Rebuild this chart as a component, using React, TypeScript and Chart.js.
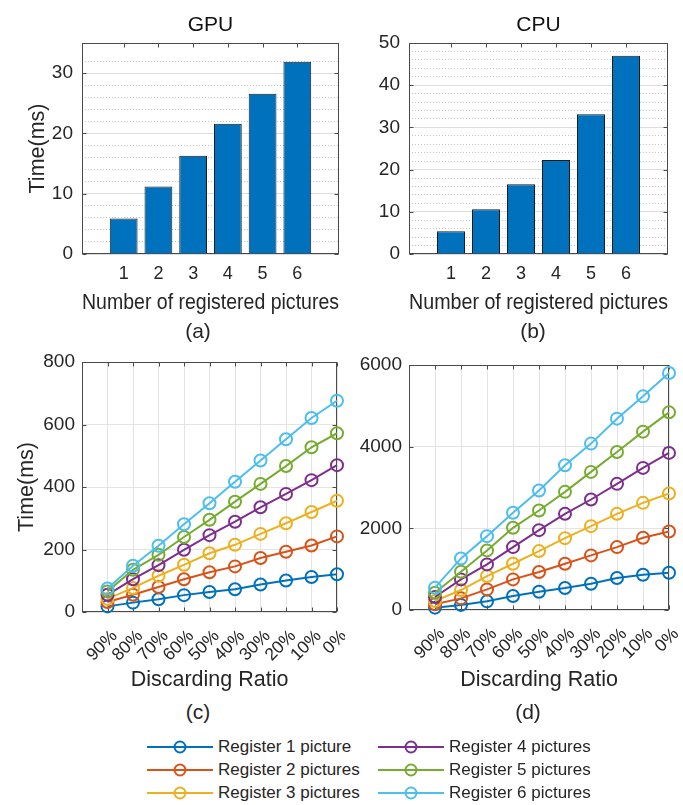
import React, { useEffect, useRef } from 'react';
import { Chart, registerables } from 'chart.js';

Chart.register(...registerables);

const FONT = '"Liberation Sans", Arial, Helvetica, sans-serif';
const TEXT = '#262626';

// ---------- data ----------
const barCategories = [1, 2, 3, 4, 5, 6];
const gpuTimes = [5.9, 11.2, 16.3, 21.6, 26.6, 31.9];
const cpuTimes = [5.4, 10.6, 16.5, 22.3, 33.1, 47.0];

const ratioLabels = ['90%', '80%', '70%', '60%', '50%', '40%', '30%', '20%', '10%', '0%'];
const seriesNames = [
  'Register 1 picture',
  'Register 2 pictures',
  'Register 3 pictures',
  'Register 4 pictures',
  'Register 5 pictures',
  'Register 6 pictures',
];
const seriesColors = ['#0072BD', '#D95319', '#EDB120', '#7E2F8E', '#77AC30', '#4DBEEE'];

const gpuReg1 = [18, 30, 41, 54, 64, 73, 88, 101, 112, 121];
const gpuReg2 = [32, 55, 80, 105, 127, 146, 173, 193, 213, 242];
const gpuReg3 = [42, 77, 116, 151, 188, 215, 250, 284, 320, 356];
const gpuReg4 = [55, 105, 150, 199, 246, 289, 335, 378, 422, 470];
const gpuReg5 = [66, 135, 183, 240, 295, 353, 410, 467, 527, 572];
const gpuReg6 = [75, 148, 212, 281, 348, 417, 485, 553, 621, 676];

const cpuReg1 = [57, 125, 212, 342, 448, 538, 644, 782, 864, 913];
const cpuReg2 = [140, 285, 505, 750, 929, 1133, 1337, 1540, 1768, 1923];
const cpuReg3 = [220, 489, 831, 1133, 1443, 1760, 2054, 2355, 2624, 2852];
const cpuReg4 = [318, 750, 1117, 1540, 1956, 2355, 2706, 3089, 3480, 3847];
const cpuReg5 = [424, 937, 1459, 2013, 2437, 2893, 3382, 3871, 4368, 4841];
const cpuReg6 = [546, 1263, 1809, 2380, 2926, 3545, 4075, 4686, 5232, 5803];

// ---------- plugin: MATLAB-like box with inward ticks ----------
const boxPlugin = {
  id: 'matlabBox',
  beforeDatasetsDraw(chart: any) {
    const { ctx, chartArea: a } = chart;
    const xs = chart.scales.x;
    const ys = chart.scales.y;
    const L = Math.round(a.left) + 0.5;
    const R = Math.round(a.right) - 0.5;
    const T = Math.round(a.top) + 0.5;
    const B = Math.round(a.bottom) - 0.5;
    const len = 4;
    ctx.save();
    ctx.strokeStyle = '#4a4a4a';
    ctx.lineWidth = 1;
    ctx.beginPath();
    xs.ticks.forEach((t: any) => {
      if (!t.label) return;
      const px = Math.round(xs.getPixelForValue(t.value)) + 0.5;
      ctx.moveTo(px, B);
      ctx.lineTo(px, B - len);
      ctx.moveTo(px, T);
      ctx.lineTo(px, T + len);
    });
    ys.ticks.forEach((t: any) => {
      if (!t.label) return;
      const py = Math.round(ys.getPixelForValue(t.value)) + 0.5;
      ctx.moveTo(L, py);
      ctx.lineTo(L + len, py);
      ctx.moveTo(R, py);
      ctx.lineTo(R - len, py);
    });
    ctx.stroke();
    ctx.strokeRect(L, T, R - L, B - T);
    ctx.restore();
  },
};

const font = (size: number) => ({ family: FONT, size, weight: 'normal' as const });

function fixX(height: number) {
  return (s: any) => {
    s.height = height;
    s.paddingLeft = 0;
    s.paddingRight = 0;
  };
}
function fixY(width: number) {
  return (s: any) => {
    s.width = width;
    s.paddingTop = 0;
    s.paddingBottom = 0;
  };
}

function barConfig(title: string, values: number[], yMax: number, yWidth: number, padRight: number, yTitle: boolean): any {
  return {
    type: 'bar',
    data: {
      datasets: [
        {
          data: barCategories.map((c, i) => ({ x: c, y: values[i] })),
          backgroundColor: '#0072BD',
          borderColor: '#1c1c1c',
          borderWidth: 1,
          categoryPercentage: 1,
          barPercentage: 0.8,
        },
      ],
    },
    options: {
      animation: false,
      responsive: false,
      layout: { padding: { left: 0, right: padRight, top: 0, bottom: 0 } },
      plugins: {
        legend: { display: false },
        tooltip: { enabled: false },
        title: {
          display: true,
          text: title,
          fullSize: false,
          color: '#111',
          font: font(21),
          padding: { top: 12.5, bottom: 5.3 },
        },
      },
      scales: {
        x: {
          type: 'linear',
          min: -0.2,
          max: 7.2,
          offset: false,
          grid: { display: false, drawTicks: false },
          border: { display: false },
          ticks: {
            stepSize: 1,
            autoSkip: false,
            maxRotation: 0,
            padding: 9,
            color: TEXT,
            font: font(18),
            callback: (v: number) => (barCategories.includes(v) ? String(v) : ''),
          },
          title: {
            display: true,
            text: 'Number of registered pictures',
            color: TEXT,
            font: font(21.5),
            padding: { top: 0, bottom: 2 },
          },
          afterFit: fixX(64),
        },
        y: {
          min: 0,
          max: yMax,
          grid: {
            drawTicks: false,
            lineWidth: 1,
            color: (c: any) => (c.tick && c.tick.value % 10 === 0 ? '#dddddd' : '#c4c4c4'),
          },
          border: {
            display: false,
            dash: (c: any) => (c.tick && c.tick.value % 10 !== 0 ? [1, 2] : []),
          },
          ticks: {
            stepSize: 2,
            autoSkip: false,
            padding: 9,
            color: TEXT,
            font: font(19),
            callback: (v: number) => (v % 10 === 0 ? String(v) : ''),
          },
          title: {
            display: yTitle,
            text: 'Time(ms)',
            color: TEXT,
            font: font(21.5),
            padding: { top: 25, bottom: 0 },
          },
          afterFit: fixY(yWidth),
        },
      },
    },
    plugins: [boxPlugin],
  };
}

function lineConfig(series: number[][], yMax: number, yStep: number, yWidth: number, padTop: number, padRight: number, xHeight: number, yTitle: boolean): any {
  return {
    type: 'line',
    data: {
      datasets: series.map((vals, i) => ({
        label: seriesNames[i],
        data: vals.map((v, j) => ({ x: j + 1, y: v })),
        borderColor: seriesColors[i],
        backgroundColor: 'transparent',
        borderWidth: 2,
        pointRadius: 6,
        pointBorderWidth: 2,
        pointBackgroundColor: 'transparent',
        pointBorderColor: seriesColors[i],
        tension: 0,
        clip: false,
        order: series.length - i,
      })),
    },
    options: {
      animation: false,
      responsive: false,
      layout: { padding: { left: 0, right: padRight, top: padTop, bottom: 0 } },
      plugins: { legend: { display: false }, tooltip: { enabled: false } },
      scales: {
        x: {
          type: 'linear',
          min: 0,
          max: 10,
          grid: { color: '#e4e4e4', drawTicks: false },
          border: { display: false },
          ticks: {
            stepSize: 1,
            autoSkip: false,
            minRotation: 45,
            maxRotation: 45,
            padding: 14,
            labelOffset: 7,
            color: TEXT,
            font: font(17.5),
            callback: (v: number) => (v >= 1 && v <= 10 ? ratioLabels[v - 1] : ''),
          },
          title: {
            display: true,
            text: 'Discarding Ratio',
            color: TEXT,
            font: font(21.5),
            padding: { top: 0, bottom: 7 },
          },
          afterFit: fixX(xHeight),
        },
        y: {
          min: 0,
          max: yMax,
          grid: { color: '#e4e4e4', drawTicks: false },
          border: { display: false },
          ticks: {
            stepSize: yStep,
            autoSkip: false,
            padding: 7,
            color: TEXT,
            font: font(19),
            callback: (v: number) => String(v),
          },
          title: {
            display: yTitle,
            text: 'Time(ms)',
            color: TEXT,
            font: font(21.5),
            padding: { top: 14, bottom: 0 },
          },
          afterFit: fixY(yWidth),
        },
      },
    },
    plugins: [boxPlugin],
  };
}

function ChartBox(props: { make: () => any; left: number; top: number; width: number; height: number }) {
  const ref = useRef<HTMLCanvasElement>(null);
  useEffect(() => {
    const chart = new Chart(ref.current as HTMLCanvasElement, props.make());
    return () => chart.destroy();
  }, []);
  return (
    <canvas
      ref={ref}
      width={props.width}
      height={props.height}
      style={{ position: 'absolute', left: props.left, top: props.top, width: props.width, height: props.height }}
    />
  );
}

function Caption(props: { text: string; cx: number; cy: number }) {
  return (
    <div
      style={{
        position: 'absolute',
        left: props.cx - 40,
        top: props.cy - 12,
        width: 80,
        height: 24,
        lineHeight: '24px',
        textAlign: 'center',
        fontSize: 21,
        color: TEXT,
      }}
    >
      {props.text}
    </div>
  );
}

export default function App() {
  const gpuSeries = [gpuReg1, gpuReg2, gpuReg3, gpuReg4, gpuReg5, gpuReg6];
  const cpuSeries = [cpuReg1, cpuReg2, cpuReg3, cpuReg4, cpuReg5, cpuReg6];
  return (
    <div
      style={{
        position: 'absolute',
        left: 0,
        top: 0,
        width: 683,
        height: 805,
        background: '#fff',
        fontFamily: FONT,
        overflow: 'hidden',
      }}
    >
      <ChartBox make={() => barConfig('GPU', gpuTimes, 35, 82, 6, true)} left={0} top={0} width={345} height={318} />
      <ChartBox make={() => barConfig('CPU', cpuTimes, 50, 69, 15, false)} left={340} top={0} width={343} height={318} />
      <ChartBox make={() => lineConfig(gpuSeries, 800, 200, 82, 22, 6, 88, true)} left={0} top={340} width={345} height={360} />
      <ChartBox make={() => lineConfig(cpuSeries, 6000, 2000, 69, 25, 14, 90, false)} left={340} top={340} width={343} height={360} />

      <Caption text="(a)" cx={198} cy={331} />
      <Caption text="(b)" cx={533} cy={331} />
      <Caption text="(c)" cx={198} cy={712} />
      <Caption text="(d)" cx={528} cy={712} />

      {seriesNames.map((name, i) => {
        const col = i < 3 ? 0 : 1;
        const row = i % 3;
        const left = col === 0 ? 147 : 378;
        const cy = 747 + row * 23;
        return (
          <div key={name} style={{ position: 'absolute', left, top: cy - 11, height: 22, width: 240 }}>
            <svg width={66} height={22} style={{ position: 'absolute', left: 0, top: 0 }}>
              <line x1={0} y1={11} x2={66} y2={11} stroke={seriesColors[i]} strokeWidth={2} />
              <circle cx={33} cy={11} r={5.5} fill="none" stroke={seriesColors[i]} strokeWidth={2} />
            </svg>
            <span
              style={{
                position: 'absolute',
                left: 71,
                top: 0,
                lineHeight: '22px',
                fontSize: 17,
                color: TEXT,
                whiteSpace: 'nowrap',
              }}
            >
              {name}
            </span>
          </div>
        );
      })}
    </div>
  );
}
